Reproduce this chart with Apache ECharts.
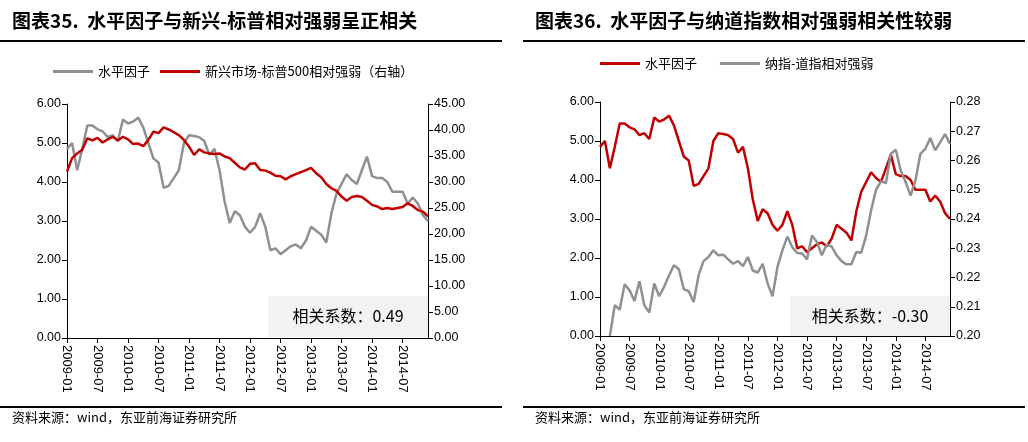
<!DOCTYPE html>
<html><head><meta charset="utf-8">
<script src="https://cdn.jsdelivr.net/npm/echarts@6/dist/echarts.min.js"></script>
<style>html,body{margin:0;background:#fff}#c{width:1028px;height:442px}</style>
</head><body><div id="c"></div>
<script>
// months 2009-01 .. 2014-12
var months = [];
for (var y = 2009; y <= 2014; y++) for (var m = 1; m <= 12; m++) months.push(y + '-' + (m < 10 ? '0' + m : m));

// 水平因子
var levelFactor = [4.85,5.0,4.3,4.85,5.45,5.45,5.35,5.3,5.15,5.2,5.05,5.6,5.5,5.55,5.65,5.4,5.0,4.6,4.5,3.85,3.9,4.1,4.3,5.0,
  5.2,5.18,5.15,5.05,4.7,4.85,4.3,3.5,2.95,3.25,3.15,2.85,2.7,2.85,3.2,2.85,2.25,2.3,2.15,2.25,2.35,2.4,2.3,2.5,
  2.85,2.75,2.65,2.45,3.2,3.7,3.95,4.2,4.05,3.95,4.3,4.65,4.15,4.1,4.1,4.0,3.75,3.75,3.75,3.45,3.6,3.45,3.15,3.0];
// 新兴市场-标普500相对强弱（右轴）
var emVsSpx = [32.0,34.6,35.5,36.2,38.4,38.0,38.5,37.6,38.2,38.7,38.0,38.7,38.2,37.3,37.4,36.9,38.1,39.7,39.4,40.5,40.1,39.6,39.0,38.1,
  36.8,35.2,36.3,35.7,35.5,35.4,35.5,34.9,34.6,33.7,32.8,32.4,33.5,33.6,32.3,32.2,31.8,31.2,31.1,30.5,31.1,31.5,31.9,32.3,
  32.7,31.7,30.9,29.6,28.8,28.3,27.2,26.4,27.1,27.3,27.1,26.4,25.6,25.3,24.8,25.0,24.8,25.0,25.2,25.9,25.4,24.6,24.3,23.4];
// 纳指-道指相对强弱
var nasdaqVsDow = [null,null,0.200,0.2105,0.209,0.2177,0.2156,0.212,0.2187,0.2105,0.208,0.218,0.2136,0.2168,0.2207,0.2242,0.2228,0.216,0.2153,0.2116,0.2207,0.2256,0.227,0.2293,
  0.2276,0.2278,0.2262,0.2247,0.2256,0.2239,0.227,0.2224,0.2217,0.2247,0.218,0.2136,0.2236,0.2293,0.234,0.2304,0.2284,0.2282,0.2262,0.2344,0.2321,0.2276,0.2313,0.2306,
  0.2276,0.2256,0.2245,0.2245,0.2287,0.2285,0.2344,0.243,0.25,0.2529,0.2523,0.2623,0.2637,0.2566,0.2526,0.248,0.2532,0.2623,0.264,0.2677,0.2635,0.2662,0.269,0.2657];

var RED = '#c00000', GRAY = '#909090';
var FONT = 'Liberation Sans';
var chart = echarts.init(document.getElementById('c'));

function xAx(gi) {
  return { type: 'category', gridIndex: gi, data: months, boundaryGap: false,
    axisLine: { lineStyle: { color: '#000' } },
    axisTick: { alignWithLabel: true, interval: 5, length: 5, lineStyle: { color: '#000' } },
    axisLabel: { interval: 5, rotate: -90, color: '#000', fontSize: 13, fontFamily: FONT, margin: 7 } };
}
function yAx(gi, min, max, interval, digits, pos) {
  return { type: 'value', gridIndex: gi, min: min, max: max, interval: interval, position: pos,
    splitLine: { show: false },
    axisLine: { show: true, lineStyle: { color: '#000' } },
    axisTick: { show: true, length: 5, lineStyle: { color: '#000' } },
    axisLabel: { color: '#000', fontSize: 12.5, fontFamily: FONT, margin: 6, formatter: function (v) { return v.toFixed(digits); } } };
}
function header(x, text) {
  return [
    { type: 'text', left: x + 12, top: 11, style: { text: text, font: 'bold 19px "Noto Sans CJK SC"', fill: '#000' } },
    { type: 'rect', shape: { x: x, y: 40, width: 502, height: 2 }, style: { fill: '#000' } },
    { type: 'rect', shape: { x: x, y: 406, width: 502, height: 2 }, style: { fill: '#000' } },
    { type: 'text', left: x + 12, top: 411, style: { text: '资料来源：wind，东亚前海证券研究所', font: '13px "Noto Sans CJK SC"', fill: '#000' } }
  ];
}
function box(x, text) {
  return [
    { type: 'rect', shape: { x: x, y: 296, width: 160, height: 41 }, style: { fill: '#f2f2f2' } },
    { type: 'text', x: x + 80, y: 316, style: { text: text, font: '16px "Noto Sans CJK SC"', fill: '#000', align: 'center', verticalAlign: 'middle' } }
  ];
}

chart.setOption({
  animation: false,
  grid: [
    { left: 67, top: 104, width: 361, height: 234 },
    { left: 600, top: 102, width: 350, height: 234 }
  ],
  legend: [
    { left: 48, top: 60, itemWidth: 40, itemHeight: 3, itemGap: 10, icon: 'rect',
      textStyle: { fontSize: 13, fontFamily: 'Noto Sans CJK SC', color: '#000' },
      data: ['水平因子', '新兴市场-标普500相对强弱（右轴）'] },
    { left: 595, top: 52, itemWidth: 40, itemHeight: 3, itemGap: 20, icon: 'rect',
      textStyle: { fontSize: 13, fontFamily: 'Noto Sans CJK SC', color: '#000' },
      data: ['水平因子 ', '纳指-道指相对强弱'] }
  ],
  xAxis: [xAx(0), xAx(1)],
  yAxis: [
    yAx(0, 0, 6, 1, 2, 'left'), yAx(0, 0, 45, 5, 2, 'right'),
    yAx(1, 0, 6, 1, 2, 'left'), yAx(1, 0.2, 0.28, 0.01, 2, 'right')
  ],
  series: [
    { name: '水平因子', type: 'line', xAxisIndex: 0, yAxisIndex: 0, data: levelFactor, showSymbol: false, lineStyle: { color: GRAY, width: 2.5 }, itemStyle: { color: GRAY } },
    { name: '新兴市场-标普500相对强弱（右轴）', type: 'line', xAxisIndex: 0, yAxisIndex: 1, data: emVsSpx, showSymbol: false, lineStyle: { color: RED, width: 2.5 }, itemStyle: { color: RED } },
    { name: '水平因子 ', type: 'line', xAxisIndex: 1, yAxisIndex: 2, data: levelFactor, showSymbol: false, lineStyle: { color: RED, width: 2.5 }, itemStyle: { color: RED } },
    { name: '纳指-道指相对强弱', type: 'line', xAxisIndex: 1, yAxisIndex: 3, data: nasdaqVsDow, showSymbol: false, lineStyle: { color: GRAY, width: 2.5 }, itemStyle: { color: GRAY } }
  ],
  graphic: [].concat(
    header(0, '图表35.  水平因子与新兴-标普相对强弱呈正相关'),
    header(523, '图表36.  水平因子与纳道指数相对强弱相关性较弱'),
    box(268, '相关系数：0.49'),
    box(790, '相关系数：-0.30')
  )
});
</script></body></html>
